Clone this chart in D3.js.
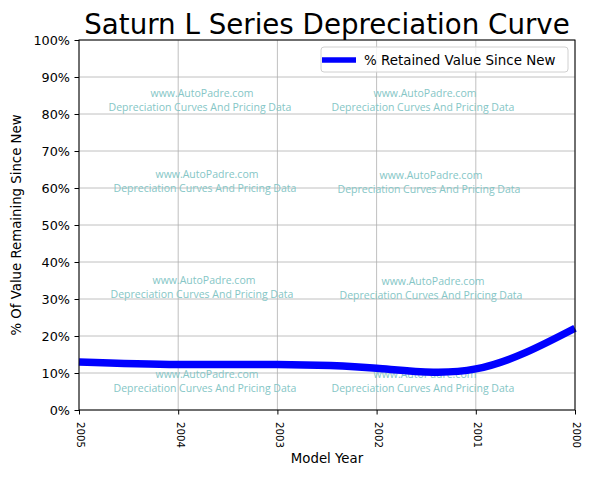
<!DOCTYPE html>
<html><head><meta charset="utf-8">
<script src="https://cdn.jsdelivr.net/npm/d3@7"></script>
<style>body{margin:0;background:#fff}svg{display:block}</style>
</head><body>
<svg id="c" width="589" height="477"></svg>
<script>
const years = [2005, 2004, 2003, 2002, 2001, 2000];
const retained = [13.0, 12.3, 12.3, 11.3, 11.1, 22.1];
const yTicks = [0,10,20,30,40,50,60,70,80,90,100];
const title = "Saturn L Series Depreciation Curve";
const legendLabel = "% Retained Value Since New";
const wmLine1 = "www.AutoPadre.com";
const wmLine2 = "Depreciation Curves And Pricing Data";
const wmPos = [[202,93],[425,93],[207,174],[431,175],[204,280],[433,281],[207,374],[425,374]];

const svg = d3.select("#c");
const L=79,R=575,T=40,B=410;
const x = d3.scaleLinear().domain([2005,2000]).range([L,R]);
const y = d3.scaleLinear().domain([0,100]).range([B,T]);
const font = "DejaVu Sans, sans-serif";

// grid
const g = svg.append("g");
g.selectAll("line.vg").data(years).enter().append("line")
 .attr("x1",d=>x(d)).attr("x2",d=>x(d)).attr("y1",T).attr("y2",B)
 .attr("stroke","#b0b0b0").attr("stroke-width",0.8);
g.selectAll("line.hg").data(yTicks).enter().append("line")
 .attr("x1",L).attr("x2",R).attr("y1",d=>y(d)).attr("y2",d=>y(d))
 .attr("stroke","#b0b0b0").attr("stroke-width",0.8);

// watermarks
const wm = svg.append("g").attr("font-family","Open Sans, sans-serif").attr("fill","#85c6c6").attr("text-anchor","middle");
wmPos.forEach(p=>{
  wm.append("text").attr("x",p[0]).attr("y",p[1]+4).attr("font-size",10.5).text(wmLine1);
  wm.append("text").attr("x",p[0]-2).attr("y",p[1]+18).attr("font-size",10.5).text(wmLine2);
});

// line
const line = d3.line().x((d,i)=>x(years[i])).y(d=>y(d)).curve(d3.curveNatural);
svg.append("path").datum(retained).attr("d",line).attr("fill","none")
 .attr("stroke","#0000ff").attr("stroke-width",7.5);

// frame
svg.append("rect").attr("x",L).attr("y",T).attr("width",R-L).attr("height",B-T)
 .attr("fill","none").attr("stroke","#000").attr("stroke-width",1);

// y axis
const ya = svg.append("g").attr("transform",`translate(${L},0)`)
 .call(d3.axisLeft(y).tickValues(yTicks).tickFormat(d=>d+"%").tickSize(4.5).tickPadding(4.5));
ya.select(".domain").remove();
ya.selectAll("text").attr("font-family",font).attr("font-size",12.8).attr("fill","#000");

// x axis
const xa = svg.append("g").attr("transform",`translate(0,${B})`)
 .call(d3.axisBottom(x).tickValues(years).tickFormat(d3.format("d")).tickSize(4.5));
xa.select(".domain").remove();
xa.selectAll("text").attr("font-family",font).attr("font-size",10.2).attr("fill","#000")
 .attr("text-anchor","start").attr("transform","rotate(90)").attr("x",12).attr("y",-1.5).attr("dy","0.35em")
 .attr("dx",0);

// title
svg.append("text").attr("x",(L+R)/2).attr("y",34).attr("text-anchor","middle")
 .attr("font-family",font).attr("font-size",27.7).text(title);
svg.append("text").attr("x",(L+R)/2).attr("y",463).attr("text-anchor","middle")
 .attr("font-family",font).attr("font-size",13.3).text("Model Year");
svg.append("text").attr("transform",`translate(21,${(T+B)/2}) rotate(-90)`).attr("text-anchor","middle")
 .attr("font-family",font).attr("font-size",13.3).text("% Of Value Remaining Since New");

// legend
const lg = svg.append("g");
lg.append("rect").attr("x",321).attr("y",47).attr("width",247).attr("height",25).attr("rx",3)
 .attr("fill","#fff").attr("fill-opacity",0.8).attr("stroke","#d0d0d0");
lg.append("line").attr("x1",322).attr("x2",356).attr("y1",60).attr("y2",60).attr("stroke","#0000ff").attr("stroke-width",5.5);
lg.append("text").attr("x",364).attr("y",65).attr("font-family",font).attr("font-size",13.4).text(legendLabel);
</script>
</body></html>
